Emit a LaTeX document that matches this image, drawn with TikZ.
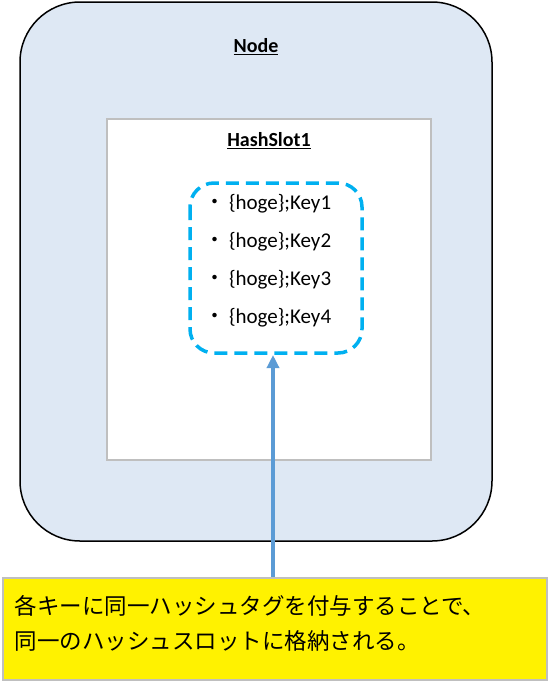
\documentclass[tikz,border=0pt]{standalone}
\usepackage{fontspec}
\setmainfont{Carlito}
\newfontfamily\jp{Noto Sans CJK JP}
\usetikzlibrary{arrows.meta}
\definecolor{nodefill}{HTML}{DEE8F4}
\definecolor{dashcol}{HTML}{00B0F0}
\definecolor{arrowcol}{HTML}{5B9BD5}
\definecolor{boxgray}{HTML}{BFBFBF}
\tikzset{
  outerbox/.style={draw=black, line width=1.5pt, fill=nodefill, rounded corners=60pt},
  slotbox/.style={draw=boxgray, line width=1.2pt, fill=white},
  keybox/.style={draw=dashcol, line width=3.5pt, dash pattern=on 13pt off 7pt, rounded corners=24pt},
  notebox/.style={draw=boxgray, line width=1.5pt, fill=yellow},
  title/.style={font=\fontsize{20}{23}\selectfont\bfseries},
  keytext/.style={font=\fontsize{21}{24}\selectfont, anchor=west},
  jptext/.style={font=\jp\fontsize{22.5}{26}\selectfont, anchor=west},
  link/.style={draw=arrowcol, line width=3.5pt, -{Triangle[length=13pt,width=12pt]}}
}
\begin{document}
\begin{tikzpicture}[x=1pt,y=-1pt]
\useasboundingbox (0,0) rectangle (548,681);
\path[outerbox] (20,2) rectangle (492,541);
\node[title] (nodet) at (256,47) {\underline{Node}};
\path[slotbox] (107,119) rectangle (431,460);
\node[title] (slott) at (269,141) {\underline{HashSlot1}};
\draw[keybox] (190,183) rectangle (362,353);
\coordinate (keybot) at (273,355);
\node[keytext] (k1) at (201,204) {{\jp ・}\,\{hoge\};Key1};
\node[keytext] (k2) at (201,242) {{\jp ・}\,\{hoge\};Key2};
\node[keytext] (k3) at (201,280) {{\jp ・}\,\{hoge\};Key3};
\node[keytext] (k4) at (201,318) {{\jp ・}\,\{hoge\};Key4};
\node[notebox, minimum width=544pt, minimum height=102pt, anchor=north west, inner sep=0pt] (note) at (2,577) {};
\node[jptext] (l1) at (11,606) {各キーに同一ハッシュタグを付与することで、};
\node[jptext] (l2) at (11,641) {同一のハッシュスロットに格納される。};
\draw[link] (note.north -| keybot) -- (keybot);
\end{tikzpicture}
\end{document}
